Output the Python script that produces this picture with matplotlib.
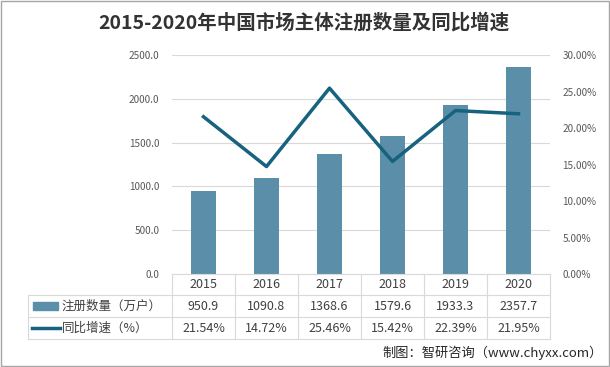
import matplotlib
matplotlib.use("Agg")
import matplotlib.pyplot as plt
from matplotlib.lines import Line2D
from matplotlib.patches import Rectangle
from matplotlib.transforms import blended_transform_factory
from matplotlib.ticker import FuncFormatter, MultipleLocator

plt.rcParams['font.family'] = ['Noto Sans CJK SC', 'DejaVu Sans']

years = ['2015', '2016', '2017', '2018', '2019', '2020']
counts = [950.9, 1090.8, 1368.6, 1579.6, 1933.3, 2357.7]
growth = [21.54, 14.72, 25.46, 15.42, 22.39, 21.95]
count_labels = ['950.9', '1090.8', '1368.6', '1579.6', '1933.3', '2357.7']
growth_labels = ['21.54%', '14.72%', '25.46%', '15.42%', '22.39%', '21.95%']
title = '2015-2020年中国市场主体注册数量及同比增速'
bar_name = '注册数量（万户）'
line_name = '同比增速（%）'
source = '制图：智研咨询（www.chyxx.com）'

W, H = 610, 367
fig = plt.figure(figsize=(W / 100, H / 100), dpi=100)

def fx(px):
    return px / W

def fy(py):
    return 1 - py / H

bar_color = '#5b8fa9'
line_color = '#17627f'
grid_color = '#d9d9d9'
text_color = '#595959'

L, R, T, B = 172, 550, 55, 274
ax = fig.add_axes([fx(L), fy(B), fx(R - L), (B - T) / H])
x = list(range(len(years)))
ax.bar(x, counts, width=0.4, color=bar_color, zorder=2)
ax.set_xlim(-0.5, len(years) - 0.5)
ax.set_ylim(0, 2500)
ax.yaxis.set_major_locator(MultipleLocator(500))
ax.yaxis.set_major_formatter(FuncFormatter(lambda v, p: f'{v:.1f}'))
ax.grid(axis='y', color=grid_color, lw=0.8, zorder=0)
ax.set_xticks([])
for s in ['top', 'right', 'left']:
    ax.spines[s].set_visible(False)
ax.spines['bottom'].set_color(grid_color)
ax.spines['bottom'].set_linewidth(0.8)
ax.tick_params(axis='y', length=0, pad=9, labelsize=7.2, labelcolor=text_color)

ax2 = ax.twinx()
ax2.plot(x, growth, color=line_color, lw=2.5, zorder=3)
ax2.set_ylim(0, 30)
ax2.yaxis.set_major_locator(MultipleLocator(5))
ax2.yaxis.set_major_formatter(FuncFormatter(lambda v, p: f'{v:.2f}%'))
for s in ['top', 'right', 'left', 'bottom']:
    ax2.spines[s].set_visible(False)
ax2.tick_params(axis='y', length=0, pad=9, labelsize=7.2, labelcolor=text_color)

# data table
rows = [274, 295, 317, 339]
tleft = 28
def hline(x0, x1, y):
    fig.add_artist(Line2D([fx(x0), fx(x1)], [fy(y), fy(y)], color=grid_color, lw=0.8))
def vline(xp, y0, y1):
    fig.add_artist(Line2D([fx(xp), fx(xp)], [fy(y0), fy(y1)], color=grid_color, lw=0.8))

hline(tleft, R, rows[1])
hline(tleft, R, rows[2])
hline(tleft, R, rows[3])
vline(tleft, rows[1], rows[3])
colw = (R - L) / len(years)
for i in range(len(years) + 1):
    vline(L + i * colw, rows[0], rows[3])

tr = blended_transform_factory(ax.transData, fig.transFigure)
tfs = 9
for i in x:
    yc = [(rows[k] + rows[k + 1]) / 2 for k in range(3)]
    fig.text(i, fy(yc[0]), years[i], transform=tr, ha='center', va='center', fontsize=tfs, color='#404040')
    fig.text(i, fy(yc[1]), count_labels[i], transform=tr, ha='center', va='center', fontsize=tfs, color='#404040')
    fig.text(i, fy(yc[2]), growth_labels[i], transform=tr, ha='center', va='center', fontsize=tfs, color='#404040')

# legend keys in table
fig.add_artist(Rectangle((fx(33), fy(310)), fx(25), 8 / H, color=bar_color))
fig.text(fx(62), fy(306), bar_name, ha='left', va='center', fontsize=tfs, color='#404040')
fig.add_artist(Line2D([fx(32), fx(60)], [fy(328), fy(328)], color=line_color, lw=2.5))
fig.text(fx(62), fy(328), line_name, ha='left', va='center', fontsize=tfs, color='#404040')

fig.text(fx(304), fy(23), title, ha='center', va='center', fontsize=14, fontweight='bold', color='#333333')
fig.text(fx(603), fy(353), source, ha='right', va='center', fontsize=9.5, color='#262626')

fig.add_artist(Rectangle((0.001, 0.002), 0.997, 0.995, fill=False, edgecolor='#a6a6a6', lw=1))

fig.savefig('out.png', dpi=100)
